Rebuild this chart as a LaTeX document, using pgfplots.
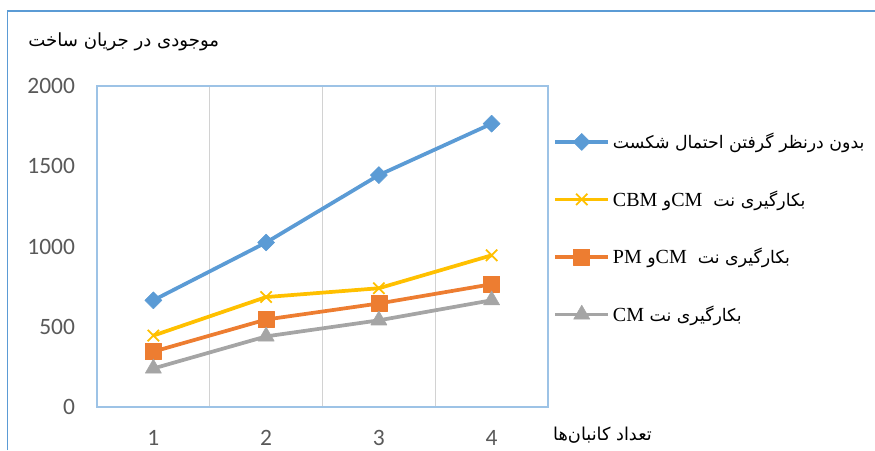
\documentclass[border=0pt]{standalone}
\usepackage{fontspec}
\setmainfont{Carlito}
\newfontfamily\fa[Script=Arabic]{DejaVu Sans}
\newfontfamily\tnr{Liberation Serif}
\TeXXeTstate=1
\usepackage{pgfplots}
\pgfplotsset{compat=1.18}

\definecolor{cblue}{RGB}{91,155,213}
\definecolor{corange}{RGB}{237,125,49}
\definecolor{cgray}{RGB}{165,165,165}
\definecolor{cyellow}{RGB}{255,192,0}
\definecolor{frameblue}{RGB}{157,195,230}
\definecolor{gridgray}{RGB}{210,210,210}
\definecolor{labelgray}{RGB}{89,89,89}

\begin{document}
\begin{tikzpicture}
\useasboundingbox (0,0) rectangle (656.25pt,337.5pt);
% chart border (only left and top are inside the picture)
\draw[cblue, line width=1pt] (5.6pt,0) -- (5.6pt,329.3pt) -- (660pt,329.3pt);
\begin{axis}[
  at={(72.75pt,32.25pt)}, anchor=south west,
  scale only axis, width=338.25pt, height=240.75pt,
  xmin=0.5, xmax=4.5, ymin=0, ymax=2000,
  xtick={1,2,3,4}, ytick={0,500,1000,1500,2000},
  minor xtick={1.5,2.5,3.5}, xminorgrids,
  minor grid style={draw=gridgray, line width=1pt},
  major tick length=0pt, minor tick length=0pt,
  axis line style={draw=frameblue, line width=0.9pt},
  tick label style={font=\fontsize{17.6}{20}\selectfont, text=labelgray},
  /pgf/number format/assume math mode=true,
  /pgf/number format/1000 sep={},
  scaled y ticks=false,
  y tick label style={xshift=-13pt},
  x tick label style={yshift=-14pt},
  xlabel={\fa\fontsize{13.3}{15}\selectfont\beginR تعداد کانبان‌ها\endR},
  xlabel style={at={(axis description cs:1.011,-0.087)}, anchor=west, inner sep=0pt},
  ylabel={\fa\fontsize{13.6}{15}\selectfont\beginR موجودی در جریان ساخت\endR},
  ylabel style={rotate=-90, at={(axis description cs:-0.153,1.137)}, anchor=west, inner sep=0pt},
  clip=false,
  every axis plot/.append style={line width=2.8pt, line join=round},
  legend style={draw=none, fill=none, at={(axis description cs:1.011,0.557)}, anchor=west,
    inner sep=0pt, row sep=26pt, nodes={inner xsep=2pt, text=black}},
  legend cell align=left,
  legend image code/.code={\draw[mark repeat=2,mark phase=2] plot coordinates {(0pt,0pt) (20pt,0pt) (40pt,0pt)};},
]
\addplot[cblue, mark=square*, mark options={rotate=45, solid, line width=0.4pt}, mark size=4.5pt]
  coordinates {(1,665) (2,1025) (3,1445) (4,1765)};
\addlegendentry{\fa\fontsize{13}{15}\selectfont\beginR بدون درنظر گرفتن احتمال شکست\endR}
\addplot[cyellow, mark=x, mark options={solid, line width=1.3pt}, mark size=6pt]
  coordinates {(1,445) (2,685) (3,740) (4,945)};
\addlegendentry{\fa\fontsize{13}{15}\selectfont\beginR بکارگیری نت\ \ \beginL{\tnr\fontsize{15}{17}\selectfont CM}\endL{}و \beginL{\tnr\fontsize{15}{17}\selectfont CBM}\endL\endR}
\addplot[corange, mark=square*, mark options={solid, line width=0.4pt}, mark size=6pt]
  coordinates {(1,345) (2,545) (3,645) (4,765)};
\addlegendentry{\fa\fontsize{13}{15}\selectfont\beginR بکارگیری نت\ \ \beginL{\tnr\fontsize{15}{17}\selectfont CM}\endL{}و \beginL{\tnr\fontsize{15}{17}\selectfont PM}\endL\endR}
\addplot[cgray, mark=triangle*, mark options={solid, line width=0.4pt}, mark size=7pt]
  coordinates {(1,240) (2,440) (3,540) (4,665)};
\addlegendentry{\fa\fontsize{13}{15}\selectfont\beginR بکارگیری نت \beginL{\tnr\fontsize{15}{17}\selectfont CM}\endL\endR}
\end{axis}
\end{tikzpicture}
\end{document}
